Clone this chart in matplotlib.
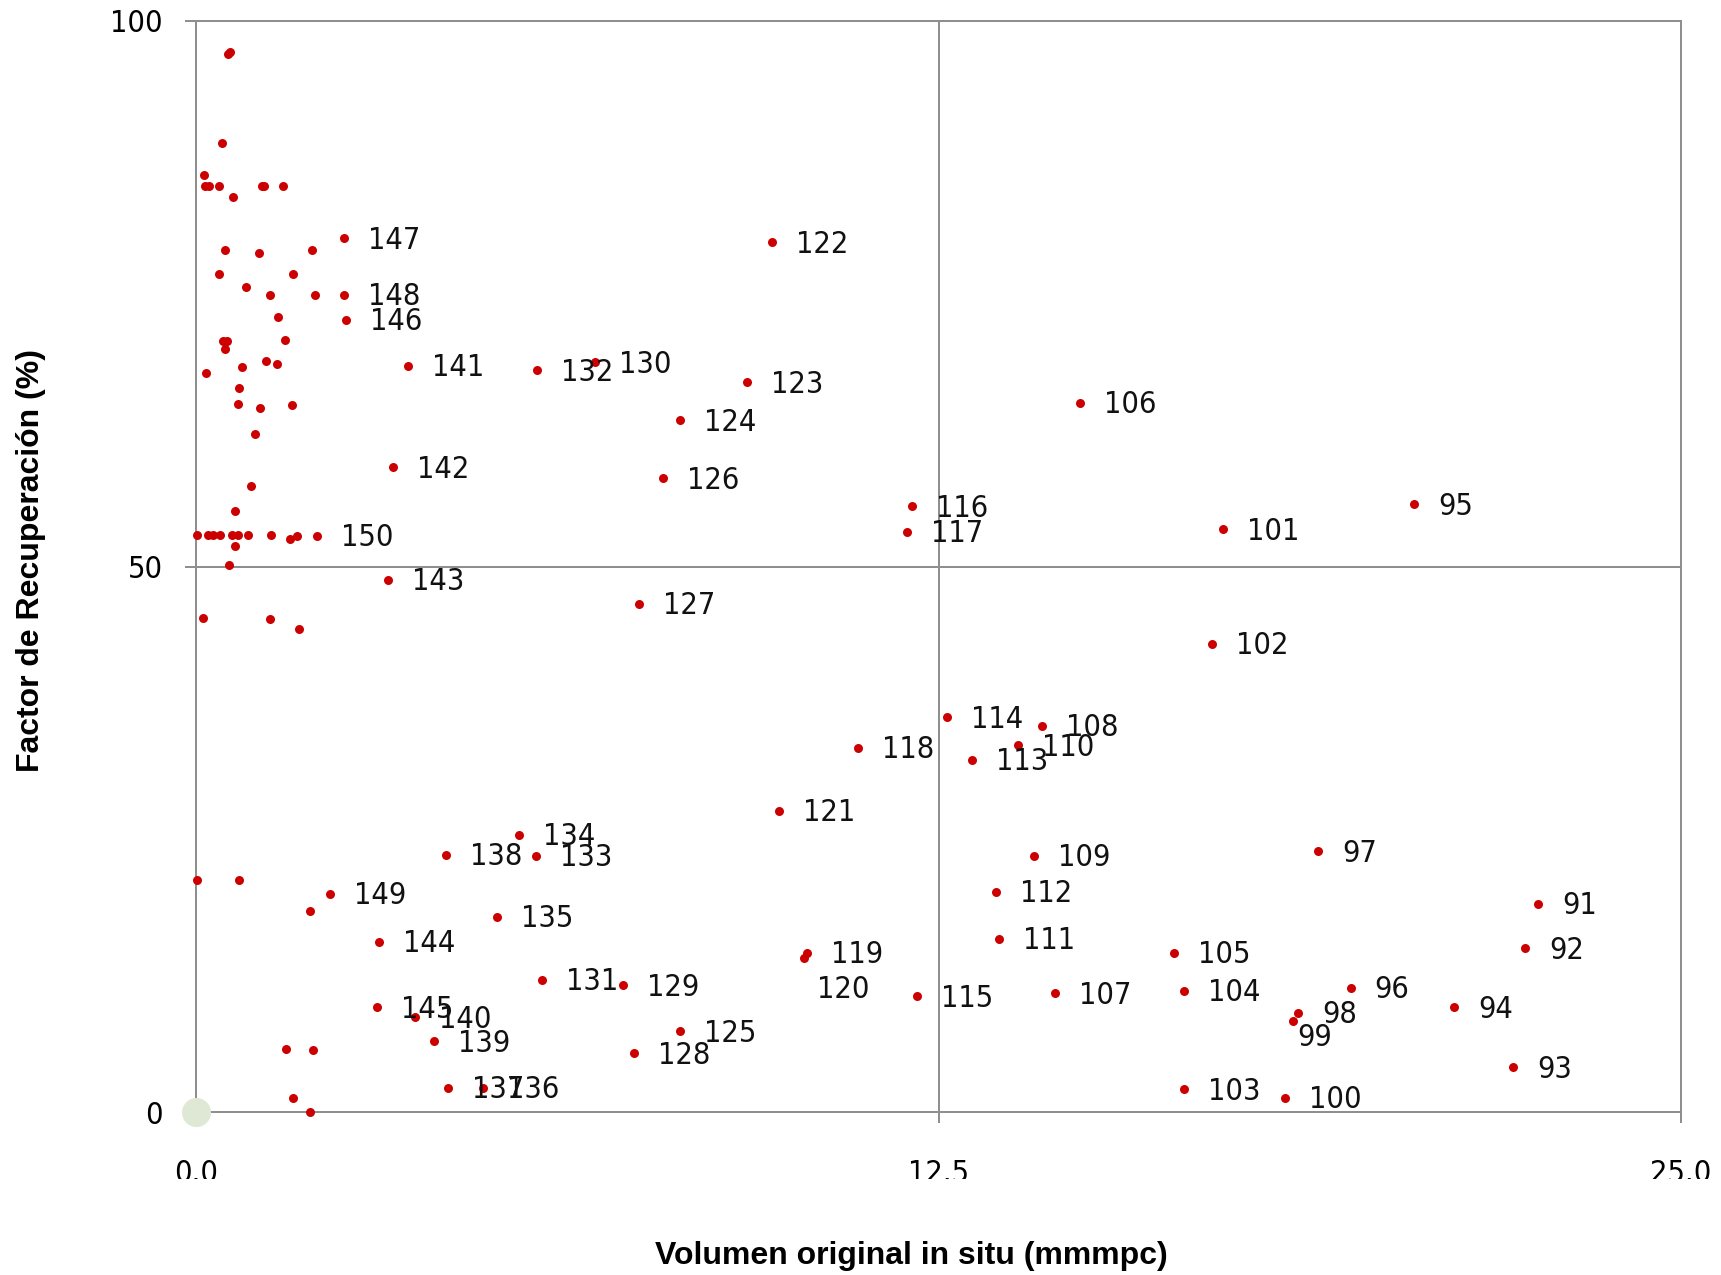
import matplotlib
matplotlib.use("Agg")
import matplotlib.pyplot as plt
from matplotlib import font_manager
from matplotlib.font_manager import FontProperties
from matplotlib.transforms import Bbox

# ---- data -------------------------------------------------------------
# Unlabelled fields (small volumes, clustered near the origin)
small_vol = [0.54, 0.58, 0.44, 0.14, 0.15, 0.22, 0.39, 1.11, 1.15, 1.46,
             0.63, 0.49, 1.06, 1.95, 0.38, 1.64, 0.84, 1.24, 2.00, 1.38,
             1.50, 0.45, 0.52, 0.48, 0.17, 0.78, 1.18, 1.36, 0.72, 0.70,
             1.08, 1.61, 1.00, 0.93, 0.66, 0.02, 0.21, 0.29, 0.40, 0.60,
             0.70, 0.88, 1.27, 1.58, 1.70, 0.66, 0.56, 0.11, 1.24, 1.73,
             0.01, 0.73, 1.92, 1.52, 1.97, 1.64, 1.92]
small_fr = [97.0, 97.2, 88.8, 85.9, 84.9, 84.9, 84.9, 84.9, 84.9, 84.9,
            83.9, 79.0, 78.7, 79.0, 76.8, 76.8, 75.6, 74.9, 74.9, 72.9,
            70.8, 70.7, 70.7, 69.9, 67.7, 68.3, 68.8, 68.6, 66.4, 64.9,
            64.5, 64.8, 62.1, 57.4, 55.1, 52.9, 52.9, 52.9, 52.9, 52.9,
            52.9, 52.9, 52.9, 52.5, 52.8, 51.9, 50.1, 45.3, 45.2, 44.3,
            21.3, 21.3, 18.4, 5.8, 5.7, 1.3, 0.0]

# Numbered fields 91-150
field_id = list(range(91, 151))
field_vol = [22.60, 22.38, 22.17, 21.18, 20.51, 19.44, 18.89, 18.56, 18.46, 18.33,
             17.29, 17.11, 16.64, 16.64, 16.47, 14.88, 14.46, 14.25, 14.10, 13.83,
             13.52, 13.46, 13.07, 12.64, 12.14, 12.06, 11.97, 11.15, 10.28, 10.24,
             9.82, 9.69, 9.28, 8.14, 8.14, 7.86, 7.46, 7.38, 7.19, 6.72,
             5.83, 5.74, 5.73, 5.44, 5.07, 4.84, 4.25, 4.21, 4.01, 3.69,
             3.57, 3.31, 3.23, 3.08, 3.05, 2.53, 2.49, 2.49, 2.25, 2.03]
field_fr = [19.1, 15.0, 4.1, 9.6, 55.7, 11.4, 23.9, 9.1, 8.3, 1.3,
            53.4, 42.9, 2.1, 11.1, 14.6, 65.0, 10.9, 35.4, 23.5, 33.6,
            15.9, 20.2, 32.3, 36.2, 10.6, 55.5, 53.2, 33.4, 14.6, 14.1,
            27.6, 79.7, 66.9, 63.4, 7.4, 58.1, 46.6, 5.4, 11.6, 68.7,
            12.1, 68.0, 23.5, 25.4, 17.9, 2.2, 2.2, 23.6, 6.5, 8.7,
            68.4, 59.1, 48.8, 15.6, 9.6, 72.6, 80.1, 74.9, 20.0, 52.8]

origin_vol = [0.0]
origin_fr = [0.0]

x_ticks = [0.0, 12.5, 25.0]
x_ticklabels = ["0.0", "12.5", "25.0"]
y_ticks = [0, 50, 100]
y_ticklabels = ["0", "50", "100"]

# ---- styling ------------------------------------------------------------
W, H, DPI = 1721, 1275, 100
installed = {f.name for f in font_manager.fontManager.ttflist}

# narrow face for numbers: prefer a true narrow family, else a condensed cut
if "Liberation Sans Narrow" in installed:
    num_font = FontProperties(family="Liberation Sans Narrow", size=23)
else:
    cond = FontProperties(family="DejaVu Sans", stretch="condensed", size=22)
    path = font_manager.findfont(cond)
    if "Condensed" in path:
        num_font = FontProperties(fname=path, size=22)
    else:
        num_font = FontProperties(family="Roboto", size=22)
bold_sans = "Liberation Sans" if "Liberation Sans" in installed else "DejaVu Sans"

grey = "#8f8f8f"
red = "#cc0000"
px = 72.0 / DPI  # one pixel in points

fig = plt.figure(figsize=(W / DPI, H / DPI), dpi=DPI)
ax = fig.add_axes([196 / W, 1 - 1112 / H, (1681 - 196) / W, (1112 - 21) / H])

ax.set_xlim(0, 25)
ax.set_ylim(0, 100)

for side in ax.spines.values():
    side.set_color(grey)
    side.set_linewidth(2 * px)

ax.axvline(12.5, color=grey, lw=2 * px, zorder=1)
ax.axhline(50, color=grey, lw=2 * px, zorder=1)

ax.set_xticks(x_ticks)
ax.set_xticklabels(x_ticklabels)
ax.set_yticks(y_ticks)
ax.set_yticklabels(y_ticklabels)
ax.tick_params(axis="both", direction="out", length=11 * px, width=2 * px, color=grey)
ax.tick_params(axis="y", pad=22 * px)
ax.tick_params(axis="x", pad=36 * px)
for lab in ax.get_xticklabels() + ax.get_yticklabels():
    lab.set_fontproperties(num_font)

# x tick labels are cut off just below the digits
clip = Bbox.from_extents(0, H - 1179, W, H)
for lab in ax.get_xticklabels():
    lab.set_clip_box(clip)
    lab.set_clip_on(True)

# points
ax.scatter(small_vol, small_fr, s=(9 * px) ** 2, color=red, linewidths=0,
           zorder=3, clip_on=False)
ax.scatter(field_vol, field_fr, s=(9 * px) ** 2, color=red, linewidths=0,
           zorder=3, clip_on=False)
ax.scatter(origin_vol, origin_fr, s=(29 * px) ** 2, color="#dfe8d5", linewidths=0,
           zorder=4, clip_on=False)

# field numbers beside their points (offsets in pixels)
label_offset = {120: (13, -31), 99: (5, -16)}
for fid, xv, yv in zip(field_id, field_vol, field_fr):
    dx, dy = label_offset.get(fid, (24, -2))
    ax.annotate(str(fid), (xv, yv), xytext=(dx * px, dy * px),
                textcoords="offset points", ha="left", va="center",
                fontproperties=num_font, color="#111111", zorder=5)

fig.text(31 / W, 1 - 561 / H, "Factor de Recuperación (%)", rotation=90,
         ha="center", va="center", fontsize=23, fontweight="bold", family=bold_sans)
fig.text(911 / W, 1 - 1264 / H, "Volumen original in situ (mmmpc)",
         ha="center", va="baseline", fontsize=23, fontweight="bold", family=bold_sans)

fig.savefig("out.png", dpi=DPI, facecolor="white")
